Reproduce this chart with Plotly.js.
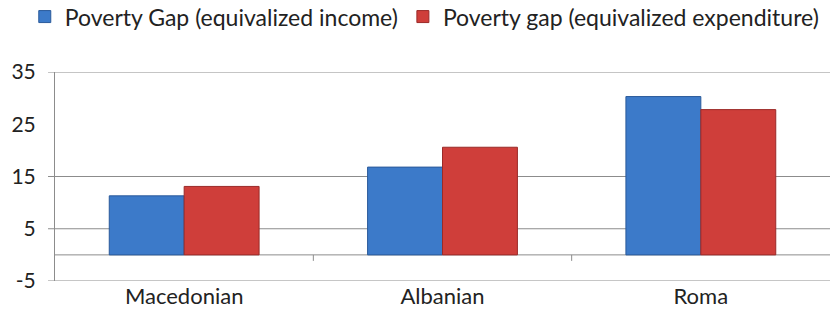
<!DOCTYPE html>
<html>
<head>
<meta charset="utf-8">
<script src="https://cdn.plot.ly/plotly-3.0.1.min.js"></script>
<style>html,body{margin:0;padding:0;background:#fff;}#chart{width:830px;height:309px;}</style>
</head>
<body>
<div id="chart"></div>
<script>
const categories = ["Macedonian", "Albanian", "Roma"];
const seriesNames = ["Poverty Gap (equivalized income)", "Poverty gap (equivalized expenditure)"];
const incomeGap = [11.3, 16.8, 30.3];
const expenditureGap = [13.1, 20.6, 27.8];
const yTickVals = [-5, 5, 15, 25, 35];
const yTickText = ["-5", "5", "15", "25", "35"];
const gridVals = [-5, 5, 15, 35];

const font = "Lato, 'Open Sans', 'DejaVu Sans', sans-serif";

const traces = [
  {type: "bar", name: seriesNames[0], x: categories, y: incomeGap,
   marker: {color: "#3c7ac9", line: {color: "#2a5a9a", width: 1}}},
  {type: "bar", name: seriesNames[1], x: categories, y: expenditureGap,
   marker: {color: "#cf3e3a", line: {color: "#9a2a28", width: 1}}}
];

const shapes = [];
gridVals.forEach(v => shapes.push({type: "line", xref: "paper", yref: "y", x0: -0.009, x1: 1, y0: v, y1: v,
  line: {color: "#8c8c8c", width: 1}, layer: "below"}));
shapes.push({type: "line", xref: "paper", yref: "y", x0: 0, x1: 1, y0: 0, y1: 0, line: {color: "#8c8c8c", width: 1}, layer: "below"});
for (let i = 0; i < categories.length - 1; i++) {
  shapes.push({type: "line", xref: "x", yref: "y", ysizemode: "pixel", yanchor: 0,
    x0: i + 0.5, x1: i + 0.5, y0: 0, y1: -6, line: {color: "#8c8c8c", width: 1}});
}

const layout = {
  width: 830, height: 309,
  margin: {l: 55, r: 0, t: 72, b: 28, autoexpand: false},
  paper_bgcolor: "#fff", plot_bgcolor: "#fff",
  font: {family: font, size: 21, color: "#222"},
  barmode: "group", bargap: 0.42, bargroupgap: 0,
  showlegend: true,
  legend: {orientation: "h", x: -0.039, xanchor: "left", y: 1.265, yanchor: "middle",
    font: {family: font, size: 23, color: "#222"}, itemclick: false, traceorder: "normal"},
  xaxis: {type: "category", showgrid: false, showline: false, zeroline: false, ticks: "",
    tickfont: {family: font, size: 22, color: "#222"}},
  yaxis: {range: [-5, 35], tickvals: yTickVals, ticktext: yTickText, showgrid: false, zeroline: false,
    showline: true, linecolor: "#8c8c8c", linewidth: 1, ticks: "", ticklabelstandoff: 14,
    tickfont: {family: font, size: 21, color: "#222"}},
  shapes: shapes
};

Plotly.newPlot("chart", traces, layout, {staticPlot: true, displayModeBar: false});
</script>
</body>
</html>
